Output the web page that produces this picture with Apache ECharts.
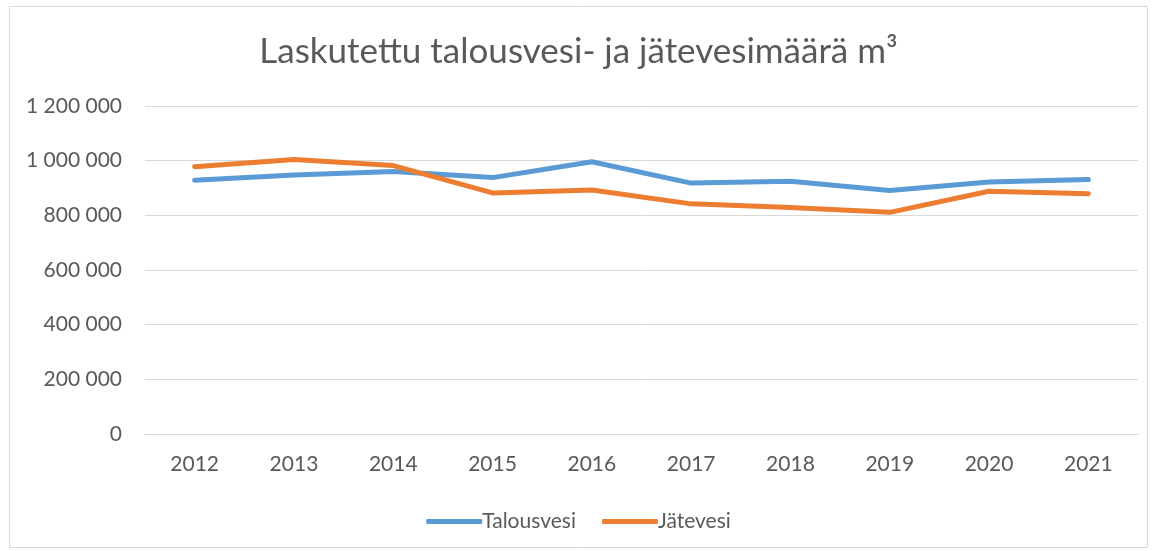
<!DOCTYPE html>
<html>
<head>
<meta charset="utf-8">
<script src="https://cdn.jsdelivr.net/npm/echarts@6/dist/echarts.min.js"></script>
<style>
  html, body { margin: 0; padding: 0; background: #fff; }
  #chart { width: 1157px; height: 551px; }
</style>
</head>
<body>
<div id="chart"></div>
<script>
// vuodet ja määrät (m³)
const years = ['2012', '2013', '2014', '2015', '2016', '2017', '2018', '2019', '2020', '2021']
const talousvesi = [928000, 948000, 960000, 938000, 996000, 918000, 925000, 891000, 922000, 931000]
const jatevesi = [978000, 1004000, 982000, 882000, 893000, 842000, 829000, 811000, 888000, 879000]

const chart = echarts.init(document.getElementById('chart'))
const font = 'Lato, "Open Sans", sans-serif'

const fmt = v => String(v).replace(/\B(?=(\d{3})+(?!\d))/g, ' ')

chart.setOption({
  backgroundColor: '#fff',
  animation: false,
  textStyle: { fontFamily: font },
  graphic: [
    {
      type: 'rect',
      shape: { x: 9.5, y: 6.5, width: 1138, height: 541 },
      style: { fill: 'none', stroke: '#d9d9d9', lineWidth: 1 },
      silent: true
    }
  ],
  title: {
    text: 'Laskutettu talousvesi- ja jätevesimäärä m³',
    left: 'center',
    top: 29,
    textStyle: { color: '#595959', fontSize: 35, fontWeight: 'normal', fontFamily: font }
  },
  grid: { left: 145, right: 19, top: 106, bottom: 117, containLabel: false },
  legend: {
    bottom: 14,
    left: 'center',
    itemWidth: 56,
    itemHeight: 5,
    itemGap: 26,
    icon: 'roundRect',
    textStyle: { color: '#595959', fontSize: 21, padding: [0, 0, 0, -5] },
    data: ['Talousvesi', 'Jätevesi']
  },
  xAxis: {
    type: 'category',
    data: years,
    boundaryGap: true,
    axisLine: { lineStyle: { color: '#d9d9d9', width: 1 } },
    axisTick: { show: false },
    axisLabel: { color: '#595959', fontSize: 21, margin: 20 }
  },
  yAxis: {
    type: 'value',
    min: 0,
    max: 1200000,
    interval: 200000,
    axisLine: { show: false },
    axisTick: { show: false },
    axisLabel: { color: '#595959', fontSize: 21, margin: 23, formatter: fmt },
    splitLine: { lineStyle: { color: '#d9d9d9', width: 1 } }
  },
  series: [
    {
      name: 'Talousvesi',
      type: 'line',
      data: talousvesi,
      symbol: 'none',
      lineStyle: { color: '#5b9bd5', width: 5, cap: 'round', join: 'round' },
      itemStyle: { color: '#5b9bd5' }
    },
    {
      name: 'Jätevesi',
      type: 'line',
      data: jatevesi,
      symbol: 'none',
      lineStyle: { color: '#ed7d31', width: 5, cap: 'round', join: 'round' },
      itemStyle: { color: '#ed7d31' }
    }
  ]
})
</script>
</body>
</html>
